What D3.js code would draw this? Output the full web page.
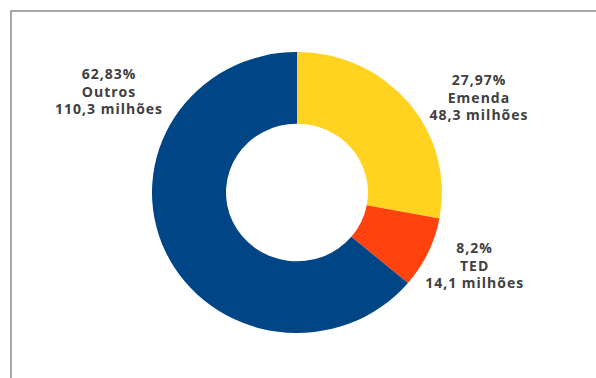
<!DOCTYPE html>
<meta charset="utf-8">
<style>
body { margin: 0; background: #fff; }
.labels text {
  font-family: "Open Sans", sans-serif;
  font-weight: bold;
  font-size: 14px;
  letter-spacing: 1px;
  fill: #404040;
}
</style>
<body>
<svg width="596" height="378"></svg>
<script src="https://d3js.org/d3.v7.min.js"></script>
<script>

// data
var categories = ["Emenda", "TED", "Outros"];
var millions = [48.3, 14.1, 110.3];
var percentLabels = ["27,97%", "8,2%", "62,83%"];
var valueLabels = ["48,3 milhões", "14,1 milhões", "110,3 milhões"];
var colors = ["#ffd320", "#ff420e", "#004586"];

var svg = d3.select("svg"),
    width = 596,
    height = 378;

// frame (only top and left edges visible)
svg.append("path")
    .attr("d", "M11,378V11H596")
    .attr("fill", "none")
    .attr("stroke", "#8a8a8a")
    .attr("stroke-width", 1.5);

var cx = 297, cy = 192.5,
    outer = 145, inner = 71,
    squash = 0.969;

var pie = d3.pie().sort(null).value(function(d, i) { return millions[i]; });
var arc = d3.arc().innerRadius(inner).outerRadius(outer);

var g = svg.append("g")
    .attr("transform", "translate(" + cx + "," + cy + ") scale(1," + squash + ")");

g.selectAll("path")
    .data(pie(categories))
    .enter().append("path")
      .attr("d", arc)
      .attr("fill", function(d, i) { return colors[i]; });

// label anchors: angle (deg, clockwise from top) and distance from center
var labelAnchor = [
  {angle: 61.8, dist: 206.5},
  {angle: 113, dist: 193},
  {angle: 298.9, dist: 214.7}
];

var labels = svg.append("g").attr("class", "labels");

categories.forEach(function(c, i) {
  var a = labelAnchor[i].angle * Math.PI / 180,
      r = labelAnchor[i].dist;
  var x = cx + r * Math.sin(a),
      y = cy - r * Math.cos(a) * squash;
  var t = labels.append("text")
      .attr("text-anchor", "middle")
      .attr("x", x)
      .attr("y", y);
  [percentLabels[i], c, valueLabels[i]].forEach(function(s, k) {
    t.append("tspan")
        .attr("x", x)
        .attr("y", y + (k - 1) * 17.5 + 5)
        .text(s);
  });
});

</script>
</body>
